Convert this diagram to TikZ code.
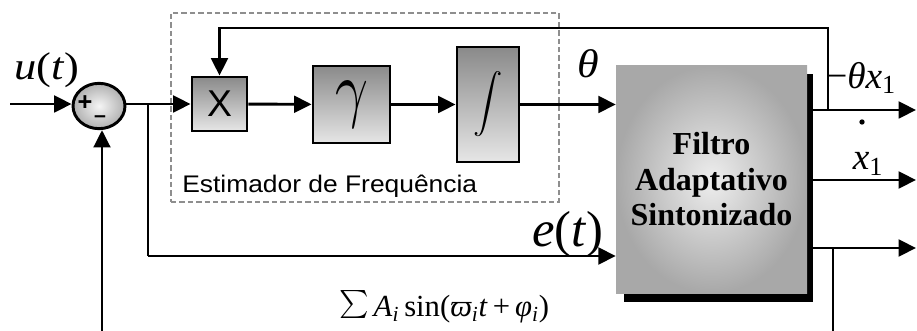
\documentclass[tikz,border=0pt]{standalone}
\usepackage{fontspec}
\setmainfont{Liberation Serif}
\setsansfont{Liberation Sans}
\usepackage{graphicx}
\usetikzlibrary{arrows.meta,shapes.geometric,calc}
\definecolor{blktop}{HTML}{8A8A8A}
\definecolor{blkbot}{HTML}{E6E6E6}
\definecolor{dashgray}{HTML}{8E8E8E}
\definecolor{filtin}{HTML}{EEEEEE}
\definecolor{filtout}{HTML}{A8A8A8}
\begin{document}
\begin{tikzpicture}[x=0.75pt,y=-0.75pt,
  wire/.style={line width=2.2pt,-{Triangle[length=13pt,width=12.5pt]}},
  plain/.style={line width=2.2pt},
  blk/.style={draw,line width=2.2pt,inner sep=0pt,top color=blktop,bottom color=blkbot},
  lab/.style={inner sep=0pt,font=\fontsize{28}{30}\selectfont},
  sgn/.style={inner sep=0pt,font=\sffamily\bfseries\fontsize{19}{19}\selectfont}
]
\useasboundingbox (0,0) rectangle (917,331);
% estimator dashed frame
\node[draw=dashgray,line width=2pt,dash pattern=on 4pt off 2.3pt,minimum width=291pt,minimum height=141.75pt,inner sep=0pt] (est) at (365,107.5) {};
\node[anchor=west,inner sep=0pt,font=\sffamily\fontsize{18}{20}\selectfont] (estlab) at (182,186) {\scalebox{1.1}[1]{Estimador de Frequência}};
% summing junction
\node[ellipse,draw,line width=2.2pt,minimum width=39pt,minimum height=34pt,inner sep=0pt,inner color=white!92!gray,outer color=gray!62] (sum) at (99,106) {};
\node[sgn] (plus) at (85,103) {+};
\node[sgn,font=\sffamily\bfseries\fontsize{16}{16}\selectfont] (minus) at (100,119) {–};
% blocks
\node[blk,minimum width=41.25pt,minimum height=40.5pt,font=\sffamily\fontsize{28}{28}\selectfont] (X) at (219.5,104) {X};
\node[blk,minimum width=57.75pt,minimum height=57.75pt] (gam) at (351.5,104.5) {\raisebox{4pt}{\scalebox{4.3}[5.6]{$\gamma$}}};
\node[blk,minimum width=46.5pt,minimum height=86.25pt] (int) at (488,104.5) {\scalebox{2.2}{$\displaystyle\int$}};
% adaptive filter with shadow
\node[fill=black,minimum width=142pt,minimum height=171pt,inner sep=0pt] (fshadow) at (718.5,188) {};
\node[minimum width=143.25pt,minimum height=170.25pt,inner sep=0pt,inner color=filtin,outer color=filtout,align=center,font=\bfseries\fontsize{24}{26.6}\selectfont] (filt) at (711.5,179.5) {Filtro\\Adaptativo\\Sintonizado};
% coordinates
\coordinate (uin) at (10,104);
\coordinate (brA) at (148,104);
\coordinate (brB) at (148,256);
\coordinate (fbA) at (828,110);
\coordinate (fbB) at (828,28);
\coordinate (o1) at (916,110);
\coordinate (o2) at (916,180);
\coordinate (o3) at (916,248);
\coordinate (blt) at (102,331);
\coordinate (brt) at (833,331);
\coordinate (brs) at (833,248);
% connectors
\draw[wire] (uin) -- (sum.west|-uin);
\draw[wire] (sum.east|-uin) -- (X.west);
\draw[plain] (brA) -- (brB);
\draw[wire] (brB) -- (filt.west|-brB);
\draw[wire] (X) -- (gam);
\draw[wire] (gam) -- (int);
\draw[wire] (int) -- (filt.west|-int);
\draw[wire] (fbA) -- (fbB) -| (X.north);
\draw[wire] (fshadow.east|-o1) -- (o1);
\draw[wire] (fshadow.east|-o2) -- (o2);
\draw[wire] (fshadow.east|-o3) -- (o3);
\draw[wire] (blt) -- (blt|-sum.south);
\draw[plain] (brt) -- (brs);
% labels
\node[lab,font=\fontsize{29}{31}\selectfont] (ulab) at (47,70) {\scalebox{1.15}[1]{\textit{u}(\textit{t})}};
\node[lab,font=\fontsize{30}{32}\selectfont] (thlab) at (588,64) {\scalebox{1.1}[1]{\textit{θ}}};
\node[lab,anchor=west] (thx) at (826,78) {−\textit{θx}\textsubscript{1}};
\node[circle,fill=black,inner sep=0pt,minimum size=4pt] (dotx) at (862,122) {};
\node[lab] (xlab) at (868,164) {\textit{x}\textsubscript{1}};
\node[inner sep=0pt,font=\fontsize{38}{40}\selectfont] (elab) at (568,234) {\textit{e}(\textit{t})};
\node[inner sep=0pt,font=\fontsize{23}{25}\selectfont] (sumlab) at (444,307) {\raisebox{-4pt}{\scalebox{2.1}{$\sum$}}\,\textit{A}\textsubscript{\textit{i}}\,sin(\textit{ϖ}\textsubscript{\textit{i}}\textit{t}\,+\,\textit{φ}\textsubscript{\textit{i}})};
\end{tikzpicture}
\end{document}
